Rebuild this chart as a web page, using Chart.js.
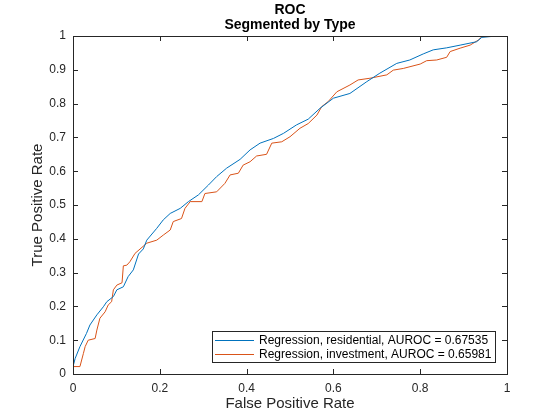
<!DOCTYPE html>
<html>
<head>
<meta charset="utf-8">
<script src="https://cdn.jsdelivr.net/npm/chart.js@4.4.0/dist/chart.umd.min.js"></script>
<style>
  html, body { margin: 0; padding: 0; background: #fff; }
  #wrap { width: 560px; height: 420px; }
</style>
</head>
<body>
<div id="wrap"><canvas id="roc"></canvas></div>
<script>
const fpr_residential = [0, 0, 0.005, 0.016, 0.031, 0.039, 0.055, 0.07, 0.078, 0.093, 0.101, 0.116, 0.127, 0.139, 0.151, 0.162, 0.17, 0.193, 0.208, 0.224, 0.247, 0.266, 0.289, 0.312, 0.331, 0.354, 0.385, 0.408, 0.431, 0.462, 0.485, 0.515, 0.542, 0.569, 0.6, 0.638, 0.677, 0.707, 0.746, 0.776, 0.807, 0.83, 0.861, 0.892, 0.93, 0.942, 0.976, 1]
const tpr_residential = [0, 0.022, 0.046, 0.081, 0.12, 0.145, 0.175, 0.199, 0.214, 0.229, 0.249, 0.258, 0.288, 0.308, 0.355, 0.37, 0.396, 0.431, 0.456, 0.475, 0.49, 0.51, 0.53, 0.559, 0.584, 0.609, 0.635, 0.663, 0.683, 0.697, 0.712, 0.737, 0.754, 0.786, 0.816, 0.83, 0.865, 0.89, 0.919, 0.929, 0.947, 0.959, 0.965, 0.973, 0.983, 0.996, 1, 1]

const fpr_investment = [0, 0, 0.016, 0.024, 0.028, 0.035, 0.051, 0.055, 0.062, 0.074, 0.081, 0.089, 0.093, 0.101, 0.113, 0.116, 0.124, 0.131, 0.143, 0.17, 0.193, 0.208, 0.224, 0.231, 0.25, 0.258, 0.27, 0.297, 0.304, 0.331, 0.35, 0.362, 0.381, 0.392, 0.408, 0.423, 0.446, 0.458, 0.481, 0.5, 0.523, 0.542, 0.562, 0.573, 0.588, 0.608, 0.638, 0.657, 0.684, 0.723, 0.738, 0.761, 0.8, 0.815, 0.838, 0.861, 0.869, 0.892, 0.915, 0.934, 0.942, 1]
const tpr_investment = [0, 0.022, 0.022, 0.061, 0.081, 0.1, 0.105, 0.13, 0.165, 0.184, 0.204, 0.214, 0.249, 0.263, 0.27, 0.32, 0.322, 0.332, 0.357, 0.387, 0.396, 0.411, 0.426, 0.451, 0.46, 0.49, 0.51, 0.51, 0.534, 0.539, 0.564, 0.589, 0.594, 0.618, 0.628, 0.645, 0.65, 0.683, 0.687, 0.702, 0.727, 0.741, 0.766, 0.791, 0.806, 0.835, 0.855, 0.87, 0.875, 0.885, 0.899, 0.904, 0.917, 0.927, 0.929, 0.937, 0.954, 0.964, 0.973, 0.988, 0.998, 1]

const series_names = ['Regression, residential, AUROC = 0.67535', 'Regression, investment, AUROC = 0.65981']
const series_colors = ['#0072BD', '#D95319']
const title_lines = ['ROC', 'Segmented by Type']
const x_label = 'False Positive Rate'
const y_label = 'True Positive Rate'

const ink = '#262626'
const font_family = '"Liberation Sans", Arial, Helvetica, sans-serif'

function to_points(xs, ys){
  return xs.map((x, i) => ({x: x, y: ys[i]}))
}

function tick_text(v){
  return Number(v.toFixed(2)).toString()
}

// matlab style: box round the axes, ticks pointing inward, legend in the corner
const matlab_axes = {
  id: 'matlab_axes',
  afterDraw(chart){
    const ctx = chart.ctx
    const a = chart.chartArea
    const xs = chart.scales.x
    const ys = chart.scales.y
    ctx.save()
    ctx.strokeStyle = ink
    ctx.lineWidth = 1
    ctx.beginPath()
    xs.ticks.forEach(t => {
      const px = Math.round(xs.getPixelForValue(t.value)) + 0.5
      ctx.moveTo(px, a.bottom); ctx.lineTo(px, a.bottom - 5)
      ctx.moveTo(px, a.top); ctx.lineTo(px, a.top + 5)
    })
    ys.ticks.forEach(t => {
      const py = Math.round(ys.getPixelForValue(t.value)) + 0.5
      ctx.moveTo(a.left, py); ctx.lineTo(a.left + 5, py)
      ctx.moveTo(a.right, py); ctx.lineTo(a.right - 5, py)
    })
    ctx.stroke()
    ctx.strokeRect(Math.round(a.left) + 0.5, Math.round(a.top) + 0.5, Math.round(a.right - a.left), Math.round(a.bottom - a.top))

    // titles
    ctx.fillStyle = '#000'
    ctx.font = 'bold 14px ' + font_family
    ctx.textAlign = 'center'
    ctx.textBaseline = 'middle'
    const cx = (a.left + a.right) / 2
    ctx.fillText(title_lines[0], cx, 10)
    ctx.fillText(title_lines[1], cx, 25)

    // legend
    const lx = 212, ly = 331, lw = 283, lh = 31
    ctx.fillStyle = '#fff'
    ctx.fillRect(lx, ly, lw, lh)
    ctx.strokeStyle = ink
    ctx.strokeRect(lx + 0.5, ly + 0.5, lw, lh)
    ctx.font = '12px ' + font_family
    ctx.textAlign = 'left'
    series_names.forEach((name, i) => {
      const yy = ly + 9 + i * 14
      ctx.strokeStyle = series_colors[i]
      ctx.beginPath()
      ctx.moveTo(lx + 3, yy + 0.5)
      ctx.lineTo(lx + 42, yy + 0.5)
      ctx.stroke()
      ctx.fillStyle = '#000'
      ctx.fillText(name, lx + 47, yy + 1)
    })
    ctx.restore()
  }
}

function make_chart(){
  const canvas = document.getElementById('roc')
  return new Chart(canvas, {
    type: 'scatter',
    data: {
      datasets: [
        {
          label: series_names[0],
          data: to_points(fpr_residential, tpr_residential),
          borderColor: series_colors[0],
          backgroundColor: series_colors[0],
          showLine: true,
          borderWidth: 1,
          pointRadius: 0,
          tension: 0,
        },
        {
          label: series_names[1],
          data: to_points(fpr_investment, tpr_investment),
          borderColor: series_colors[1],
          backgroundColor: series_colors[1],
          showLine: true,
          borderWidth: 1,
          pointRadius: 0,
          tension: 0,
        },
      ]
    },
    options: {
      responsive: true,
      maintainAspectRatio: false,
      animation: false,
      layout: {
        padding: {left: 0, right: 53, top: 36, bottom: 0}
      },
      plugins: {
        legend: { display: false },
        title: { display: false },
        tooltip: { enabled: false },
      },
      scales: {
        x: {
          type: 'linear',
          min: 0,
          max: 1,
          afterFit: (s) => { s.height = 46 },
          grid: { display: false, drawTicks: false },
          border: { display: false },
          ticks: {
            stepSize: 0.2,
            padding: 7,
            color: ink,
            font: { family: font_family, size: 12 },
            maxRotation: 0,
            callback: tick_text,
          },
          title: {
            display: true,
            text: x_label,
            color: ink,
            font: { family: font_family, size: 15 },
            padding: { top: 0, bottom: 7 },
          }
        },
        y: {
          type: 'linear',
          min: 0,
          max: 1,
          afterFit: (s) => { s.width = 73 },
          grid: { display: false, drawTicks: false },
          border: { display: false },
          ticks: {
            stepSize: 0.1,
            padding: 7,
            color: ink,
            font: { family: font_family, size: 12 },
            callback: tick_text,
          },
          title: {
            display: true,
            text: y_label,
            color: ink,
            font: { family: font_family, size: 15 },
            padding: { top: 29, bottom: 0 },
          }
        }
      }
    },
    plugins: [matlab_axes]
  })
}

let chart = make_chart()
</script>
</body>
</html>
